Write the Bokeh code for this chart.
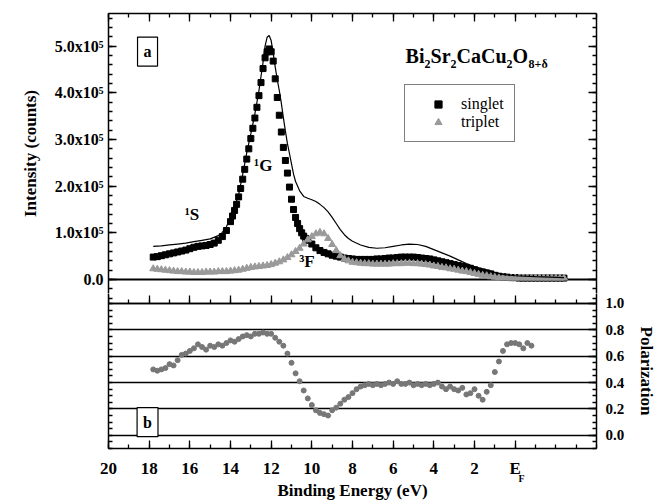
from bokeh.plotting import figure
from bokeh.models import (Range1d, LinearAxis, FixedTicker, Label, Legend, LegendItem,
                          Span, Grid, NumeralTickFormatter)
from bokeh.layouts import column
from bokeh.embed import file_html
from bokeh.resources import INLINE

FONT = "Liberation Serif"

# ---------------- data (intensity in units of 1e5 counts) ----------------
singlet_E = [17.8, 17.6, 17.4, 17.2, 17.0, 16.8, 16.6, 16.4, 16.2, 16.0, 15.8, 15.6, 15.4, 15.2,
             15.0, 14.8, 14.6, 14.4, 14.2, 14.0,
             13.9, 13.8, 13.7, 13.6, 13.5, 13.4, 13.3, 13.2, 13.1, 13.0, 12.9, 12.8, 12.7, 12.6,
             12.5, 12.4, 12.3, 12.2, 12.1, 12.0, 11.9, 11.8, 11.7, 11.6, 11.5, 11.4, 11.3, 11.2,
             11.1, 11.0, 10.9, 10.8, 10.7, 10.6, 10.5, 10.4, 10.3, 10.2,
             10.0, 9.8, 9.6, 9.4, 9.2, 9.0, 8.8, 8.6, 8.4, 8.2, 8.0, 7.8, 7.6, 7.4, 7.2, 7.0,
             6.8, 6.6, 6.4, 6.2, 6.0, 5.8, 5.6, 5.4, 5.2, 5.0, 4.8, 4.6, 4.4, 4.2, 4.0, 3.8,
             3.6, 3.4, 3.2, 3.0, 2.8, 2.6, 2.4, 2.2, 2.0, 1.8, 1.6, 1.4, 1.2, 1.0, 0.8, 0.6,
             0.4, 0.2, 0.0, -0.2, -0.4, -0.6, -0.8, -1.0, -1.2, -1.4, -1.6, -1.8, -2.0, -2.2, -2.4]
singlet_I = [0.48, 0.49, 0.51, 0.53, 0.55, 0.57, 0.59, 0.61, 0.63, 0.66, 0.69, 0.71, 0.72, 0.73,
             0.75, 0.78, 0.84, 0.92, 1.05, 1.24,
             1.36, 1.48, 1.61, 1.77, 1.95, 2.15, 2.36, 2.58, 2.80, 3.02, 3.24, 3.46, 3.69, 3.94,
             4.22, 4.52, 4.75, 4.88, 4.94, 4.88, 4.68, 4.30, 3.90, 3.52, 3.16, 2.83, 2.55, 2.28,
             1.98, 1.72, 1.50, 1.33, 1.20, 1.09, 1.00, 0.93, 0.88, 0.84,
             0.76, 0.68, 0.62, 0.58, 0.55, 0.52, 0.50, 0.48, 0.46, 0.45, 0.44, 0.43, 0.43, 0.43,
             0.43, 0.43, 0.44, 0.44, 0.45, 0.46, 0.46, 0.47, 0.48, 0.48, 0.48, 0.48, 0.47, 0.46,
             0.45, 0.44, 0.42, 0.40, 0.38, 0.36, 0.34, 0.32, 0.30, 0.28, 0.26, 0.24, 0.21, 0.18,
             0.16, 0.14, 0.12, 0.09, 0.07, 0.06, 0.05, 0.04, 0.04, 0.03, 0.03, 0.03, 0.03, 0.03,
             0.03, 0.03, 0.03, 0.03, 0.03, 0.03, 0.03]

triplet_E = [17.8, 17.6, 17.4, 17.2, 17.0, 16.8, 16.6, 16.4, 16.2, 16.0, 15.8, 15.6, 15.4, 15.2,
             15.0, 14.8, 14.6, 14.4, 14.2, 14.0, 13.8, 13.6, 13.4, 13.2, 13.0, 12.8, 12.6, 12.4,
             12.2, 12.0, 11.8, 11.6, 11.4, 11.2, 11.0, 10.8, 10.6, 10.4, 10.2, 10.0, 9.8, 9.6,
             9.4, 9.2, 9.0, 8.8, 8.6, 8.4, 8.2, 8.0, 7.8, 7.6, 7.4, 7.2, 7.0, 6.8, 6.6, 6.4,
             6.2, 6.0, 5.8, 5.6, 5.4, 5.2, 5.0, 4.8, 4.6, 4.4, 4.2, 4.0, 3.8, 3.6, 3.4, 3.2,
             3.0, 2.8, 2.6, 2.4, 2.2, 2.0, 1.8, 1.6, 1.4, 1.2, 1.0, 0.8, 0.6, 0.4, 0.2, 0.0,
             -0.2, -0.4, -0.6, -0.8, -1.0, -1.2, -1.4, -1.6, -1.8, -2.0, -2.2, -2.4]
triplet_I = [0.23, 0.22, 0.21, 0.20, 0.19, 0.18, 0.17, 0.17, 0.16, 0.16, 0.15, 0.15, 0.15, 0.16,
             0.16, 0.16, 0.17, 0.17, 0.17, 0.18, 0.19, 0.20, 0.22, 0.24, 0.26, 0.27, 0.28, 0.29,
             0.30, 0.32, 0.35, 0.38, 0.42, 0.47, 0.53, 0.60, 0.67, 0.76, 0.85, 0.92, 0.98, 1.01,
             0.98, 0.88, 0.75, 0.62, 0.51, 0.44, 0.40, 0.37, 0.36, 0.35, 0.34, 0.34, 0.33, 0.33,
             0.33, 0.33, 0.33, 0.34, 0.34, 0.34, 0.35, 0.35, 0.34, 0.34, 0.33, 0.32, 0.31, 0.29,
             0.28, 0.26, 0.25, 0.23, 0.22, 0.20, 0.18, 0.17, 0.15, 0.13, 0.11, 0.09, 0.08, 0.06,
             0.05, 0.04, 0.04, 0.03, 0.03, 0.03, 0.03, 0.03, 0.03, 0.03, 0.03, 0.03, 0.03, 0.03,
             0.03, 0.03, 0.03, 0.03]

total_E = [17.8, 17.4, 17.0, 16.6, 16.2, 15.8, 15.4, 15.0, 14.6, 14.4, 14.2, 14.0, 13.8, 13.6,
           13.4, 13.2, 13.0, 12.8, 12.6, 12.4, 12.3, 12.2, 12.1, 12.0, 11.9, 11.8, 11.7, 11.6,
           11.5, 11.4, 11.3, 11.2, 11.1, 11.0, 10.9, 10.8, 10.6, 10.4, 10.2, 10.0, 9.8, 9.6,
           9.4, 9.2, 9.0, 8.8, 8.6, 8.4, 8.2, 8.0, 7.6, 7.2, 6.8, 6.4, 6.0, 5.6, 5.2, 4.8,
           4.4, 4.0, 3.6, 3.2, 2.8, 2.4, 2.0, 1.6, 1.2, 1.0, 0.6, 0.0, -1.0, -2.4]
total_I = [0.71, 0.72, 0.74, 0.76, 0.78, 0.81, 0.84, 0.87, 0.94, 1.01, 1.13, 1.33, 1.56, 1.82,
           2.25, 2.72, 3.12, 3.55, 4.05, 4.65, 5.00, 5.19, 5.23, 5.12, 4.85, 4.55, 4.28, 4.05,
           3.78, 3.47, 3.18, 2.91, 2.70, 2.48, 2.26, 2.10, 1.90, 1.78, 1.74, 1.71, 1.67, 1.61,
           1.54, 1.45, 1.33, 1.20, 1.07, 0.96, 0.88, 0.82, 0.74, 0.69, 0.67, 0.68, 0.71, 0.74,
           0.76, 0.75, 0.71, 0.64, 0.57, 0.50, 0.42, 0.34, 0.27, 0.23, 0.18, 0.15, 0.11, 0.08,
           0.06, 0.04]

pol_E = [17.8, 17.6, 17.4, 17.2, 17.0, 16.8, 16.6, 16.4, 16.2, 16.0, 15.8, 15.6, 15.4, 15.2,
         15.0, 14.8, 14.6, 14.4, 14.2, 14.0, 13.8, 13.6, 13.4, 13.2, 13.0, 12.8, 12.6, 12.4,
         12.2, 12.0, 11.8, 11.6, 11.4, 11.2, 11.0, 10.8, 10.6, 10.4, 10.2, 10.0, 9.8, 9.6,
         9.4, 9.2, 9.0, 8.8, 8.6, 8.4, 8.2, 8.0, 7.8, 7.6, 7.4, 7.2, 7.0, 6.8, 6.6, 6.4,
         6.2, 6.0, 5.8, 5.6, 5.4, 5.2, 5.0, 4.8, 4.6, 4.4, 4.2, 4.0, 3.8, 3.6, 3.4, 3.2,
         3.0, 2.8, 2.6, 2.4, 2.2, 2.0, 1.8, 1.6, 1.4, 1.2, 1.0, 0.8, 0.6, 0.4, 0.2, 0.0,
         -0.2, -0.4, -0.6, -0.8]
pol_P = [0.50, 0.49, 0.50, 0.51, 0.54, 0.53, 0.57, 0.61, 0.62, 0.64, 0.66, 0.69, 0.67, 0.65,
         0.68, 0.67, 0.69, 0.68, 0.70, 0.72, 0.71, 0.73, 0.75, 0.76, 0.75, 0.77, 0.77, 0.78,
         0.77, 0.77, 0.74, 0.71, 0.68, 0.62, 0.55, 0.47, 0.41, 0.34, 0.28, 0.23, 0.19, 0.17,
         0.16, 0.15, 0.19, 0.21, 0.24, 0.27, 0.29, 0.32, 0.35, 0.37, 0.38, 0.39, 0.38, 0.39,
         0.38, 0.39, 0.40, 0.39, 0.41, 0.39, 0.39, 0.40, 0.38, 0.39, 0.38, 0.39, 0.38, 0.39,
         0.40, 0.37, 0.35, 0.37, 0.35, 0.34, 0.36, 0.31, 0.32, 0.35, 0.30, 0.27, 0.33, 0.38,
         0.48, 0.56, 0.64, 0.69, 0.70, 0.70, 0.69, 0.66, 0.70, 0.68]

x_major = [20, 18, 16, 14, 12, 10, 8, 6, 4, 2, 0]
x_labels = {0: "E"}
y1_major = [0, 1, 2, 3, 4, 5]
y1_labels = {0: "0.0", 1: "1.0x10⁵", 2: "2.0x10⁵", 3: "3.0x10⁵", 4: "4.0x10⁵", 5: "5.0x10⁵"}
y2_major = [0.0, 0.2, 0.4, 0.6, 0.8, 1.0]
y2_grid = [0.0, 0.2, 0.4, 0.6, 0.8]

# the upper frame ends 10 px above the drawn boundary (polarization 1.0),
# so that the "1.0" label stays inside the lower figure
P_SPLIT = 1.0


def style_axis(ax):
    ax.axis_line_color = "black"
    ax.axis_line_width = 1.5
    ax.major_tick_in = 8
    ax.major_tick_out = 0
    ax.minor_tick_in = 4
    ax.minor_tick_out = 0
    ax.major_tick_line_width = 1.3
    ax.minor_tick_line_width = 1.3
    ax.major_tick_line_color = "black"
    ax.minor_tick_line_color = "black"
    ax.major_label_text_font = FONT
    ax.major_label_text_font_style = "bold"
    ax.major_label_text_color = "black"
    ax.axis_label_text_font = FONT
    ax.axis_label_text_font_style = "bold"
    ax.axis_label_text_font_size = "17px"
    ax.axis_label_text_color = "black"


def edge_axis(ticker, **kw):
    ax = LinearAxis(ticker=ticker, **kw)
    style_axis(ax)
    ax.major_label_text_color = None
    ax.major_label_text_font_size = "0px"
    ax.major_label_standoff = 0
    return ax


x_ticker = FixedTicker(ticks=x_major, minor_ticks=list(range(-4, 21)))
x_range = Range1d(20, -4)

# ---------------- upper panel ----------------
p1 = figure(frame_width=488, frame_height=280, x_range=x_range, y_range=Range1d(-0.30, 5.70),
            x_axis_location=None, y_axis_location=None, output_backend="svg",
            toolbar_location=None, min_border_left=108, min_border_right=60,
            min_border_top=13, min_border_bottom=0)
p1.grid.visible = False
p1.outline_line_color = None
p1.background_fill_color = "white"
p1.border_fill_color = "white"

y1_ticker = FixedTicker(ticks=y1_major, minor_ticks=[round(-0.2 + 0.2 * i, 1) for i in range(30)])
axl = LinearAxis(ticker=y1_ticker, major_label_overrides=y1_labels, axis_label="Intensity (counts)")
style_axis(axl)
axl.major_label_text_font_size = "16px"
axl.major_label_standoff = 5
axl.axis_label_standoff = 12
p1.add_layout(axl, "left")
p1.add_layout(edge_axis(y1_ticker), "right")
p1.add_layout(edge_axis(x_ticker), "above")

p1.add_layout(Span(location=0, dimension="width", line_color="black", line_width=1.8,
                   level="underlay"))

r_s = p1.scatter(singlet_E, singlet_I, marker="square", size=6, color="black")
r_t = p1.scatter(triplet_E, triplet_I, marker="triangle", size=7, color="#9a9a9a")
p1.line(total_E, total_I, line_color="black", line_width=1.2)

legend = Legend(items=[LegendItem(label="singlet", renderers=[r_s]),
                       LegendItem(label="triplet", renderers=[r_t])],
                location=(296, 151), orientation="vertical", border_line_color="black",
                border_line_width=1.2, background_fill_color="white", background_fill_alpha=1,
                padding=10, spacing=0, glyph_width=46, glyph_height=18, label_height=18,
                label_standoff=0, label_text_font=FONT, label_text_font_size="16px",
                label_text_color="black", margin=0)
p1.add_layout(legend)


def lab(p, x, y, text, size, **kw):
    l = Label(x=x, y=y, text=text, text_font=FONT, text_font_style="bold",
              text_font_size=size, text_color="black", **kw)
    p.add_layout(l)
    return l


lab(p1, 18.08, 4.885, "a", "16px", text_align="center", text_baseline="middle",
    border_line_color="black", border_line_width=1.2, background_fill_color="white", padding=6)
lab(p1, 16.25, 1.18, "¹S", "17px")
lab(p1, 12.84, 2.23, "¹G", "17px")
lab(p1, 10.62, 0.19, "³F", "17px")

TX = 5.39
for txt, off, size, yy in [("Bi", 0, "20px", 4.78), ("2", 19, "12px", 4.62), ("Sr", 25, "20px", 4.78),
                           ("2", 45, "12px", 4.62), ("CaCu", 51, "20px", 4.78), ("2", 101, "12px", 4.62),
                           ("O", 107, "20px", 4.78), ("8+δ", 123, "12px", 4.62)]:
    lab(p1, TX, yy, txt, size, x_offset=off, text_baseline="alphabetic")

# ---------------- lower panel ----------------
p2 = figure(frame_width=488, frame_height=155, x_range=x_range, y_range=Range1d(-0.1, 1.0758),
            x_axis_location=None, y_axis_location=None, output_backend="svg",
            toolbar_location=None, min_border_left=108, min_border_right=10,
            min_border_top=0, min_border_bottom=5)
p2.grid.visible = False
p2.outline_line_color = None
p2.background_fill_color = "white"
p2.border_fill_color = "white"

p2.add_layout(Grid(dimension=1, ticker=FixedTicker(ticks=y2_grid),
                   grid_line_color="black", grid_line_width=1.3))
p2.add_layout(Span(location=P_SPLIT, dimension="width", line_color="black", line_width=1.6))

minor2 = [round(-0.1 + 0.05 * i, 2) for i in range(23)] + [1.04]
p2.add_layout(edge_axis(FixedTicker(ticks=[], minor_ticks=minor2)), "left")

axr = LinearAxis(ticker=FixedTicker(ticks=y2_major, minor_ticks=minor2),
                 formatter=NumeralTickFormatter(format="0.0"), axis_label="Polarization")
style_axis(axr)
axr.major_label_text_font_size = "15px"
axr.major_label_standoff = 9
axr.axis_label_standoff = 10
axr.axis_label_orientation = "vertical"
p2.add_layout(axr, "right")

axb = LinearAxis(ticker=x_ticker, major_label_overrides=x_labels)
style_axis(axb)
axb.major_label_text_font_size = "17px"
axb.major_label_standoff = 10
p2.add_layout(axb, "below")

# subscript "F" of E_F, plus the axis title below it
axf = LinearAxis(ticker=FixedTicker(ticks=[-0.31], minor_ticks=[]),
                 major_label_overrides={-0.31: "F"}, axis_label="Binding Energy (eV)")
style_axis(axf)
axf.axis_line_color = None
axf.major_tick_line_color = None
axf.major_label_text_font_size = "10px"
axf.major_label_standoff = -8
axf.axis_label_standoff = -6
p2.add_layout(axf, "below")

# upward ticks along the panel boundary
axm = LinearAxis(ticker=x_ticker, fixed_location=P_SPLIT)
style_axis(axm)
axm.major_label_text_color = None
p2.add_layout(axm, "below")

p2.scatter(pol_E, pol_P, marker="circle", size=5, color="#777777")

lab(p2, 18.08, 0.10, "b", "16px", text_align="center", text_baseline="middle",
    border_line_color="black", border_line_width=1.2, background_fill_color="white", padding=6)

layout = column(p1, p2, spacing=0)
open("out.html", "w").write(file_html(layout, INLINE))
